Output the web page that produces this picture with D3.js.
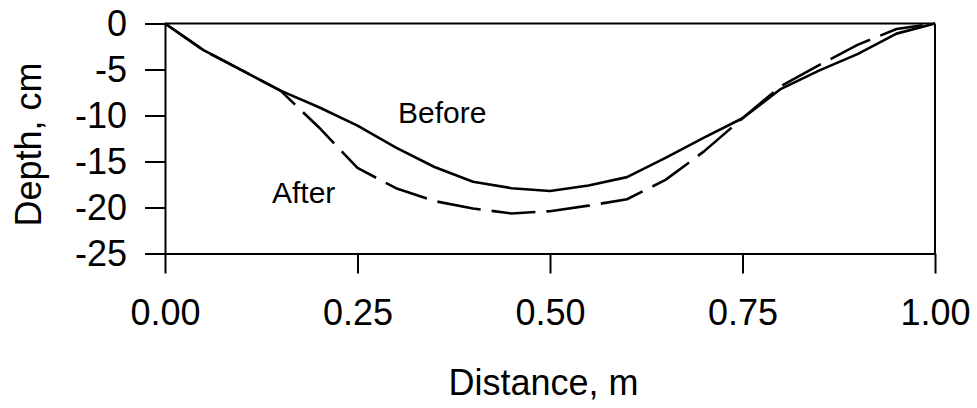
<!DOCTYPE html>
<html>
<head>
<meta charset="utf-8">
<script src="https://cdn.jsdelivr.net/npm/d3@7"></script>
<style>
  html, body { margin: 0; padding: 0; background: #fff; }
  svg { display: block; font-family: "Liberation Sans", Arial, Helvetica, sans-serif; }
</style>
</head>
<body>
<svg id="chart" width="977" height="408"></svg>
<script>
// ---- data ----
const distance = [0, 0.05, 0.10, 0.15, 0.20, 0.25, 0.30, 0.35, 0.40, 0.45, 0.50, 0.55, 0.60, 0.65, 0.70, 0.75, 0.80, 0.85, 0.90, 0.95, 1.00];
const before   = [0, -2.9, -5.1, -7.3, -9.1, -11.1, -13.5, -15.6, -17.2, -17.9, -18.2, -17.6, -16.7, -14.6, -12.4, -10.3, -7.1, -5.1, -3.3, -1.1, 0];
const after    = [0, -2.9, -5.1, -7.3, -11.3, -15.7, -17.9, -19.3, -20.1, -20.65, -20.4, -19.8, -19.1, -17.0, -13.9, -10.3, -6.8, -4.5, -2.3, -0.6, 0];
const xTicks = [0, 0.25, 0.5, 0.75, 1.0];
const xTickLabels = ["0.00", "0.25", "0.50", "0.75", "1.00"];
const yTicks = [0, -5, -10, -15, -20, -25];
const yTickLabels = ["0", "-5", "-10", "-15", "-20", "-25"];
const labels = { x: "Distance, m", y: "Depth, cm", before: "Before", after: "After" };

// ---- layout ----
const svg = d3.select("#chart");
const pLeft = 165, pRight = 935, pTop = 23.5, pBottom = 253.5;
const x = d3.scaleLinear().domain([0, 1]).range([pLeft, pRight]);
const y = d3.scaleLinear().domain([0, -25]).range([pTop, pBottom]);

// frame top/right
svg.append("line").attr("x1", pLeft).attr("x2", pRight).attr("y1", pTop).attr("y2", pTop)
  .attr("stroke", "#000").attr("stroke-width", 2);
svg.append("line").attr("x1", pRight).attr("x2", pRight).attr("y1", pTop).attr("y2", pBottom)
  .attr("stroke", "#000").attr("stroke-width", 2);

// axes
const yAxis = d3.axisLeft(y).tickValues(yTicks)
  .tickFormat((d, i) => yTickLabels[i]).tickSize(20).tickSizeOuter(0).tickPadding(18);
const gy = svg.append("g").attr("transform", `translate(${pLeft},0)`).call(yAxis);

const xAxis = d3.axisBottom(x).tickValues(xTicks)
  .tickFormat((d, i) => xTickLabels[i]).tickSize(20).tickSizeOuter(0).tickPadding(26);
const gx = svg.append("g").attr("transform", `translate(0,${pBottom})`).call(xAxis);

[gx, gy].forEach(g => {
  g.selectAll("path.domain").attr("stroke", "#000").attr("stroke-width", 2);
  g.selectAll(".tick line").attr("stroke", "#000").attr("stroke-width", 2);
  g.selectAll(".tick text").attr("fill", "#000").style("font-size", "36px")
    .style("font-family", '"Liberation Sans", Arial, sans-serif');
});

// axis titles
svg.append("text").attr("x", 543.5).attr("y", 395).attr("text-anchor", "middle")
  .style("font-size", "36px").attr("fill", "#000").text(labels.x);
svg.append("text").attr("transform", "translate(41,144.5) rotate(-90)").attr("text-anchor", "middle")
  .style("font-size", "36px").attr("fill", "#000").text(labels.y);

// lines
const line = d3.line().x((d, i) => x(distance[i])).y(d => y(d));
svg.append("path").datum(before).attr("d", line).attr("fill", "none")
  .attr("stroke", "#000").attr("stroke-width", 2.6).attr("stroke-linejoin", "round");
svg.append("path").datum(after).attr("d", line).attr("fill", "none")
  .attr("stroke", "#000").attr("stroke-width", 2.6).attr("stroke-linejoin", "round")
  .attr("stroke-dasharray", "44,11");

// annotations
svg.append("text").attr("x", 398).attr("y", 123).style("font-size", "30px")
  .attr("fill", "#000").text(labels.before);
svg.append("text").attr("x", 272).attr("y", 203).style("font-size", "30px")
  .attr("fill", "#000").text(labels.after);
</script>
</body>
</html>
